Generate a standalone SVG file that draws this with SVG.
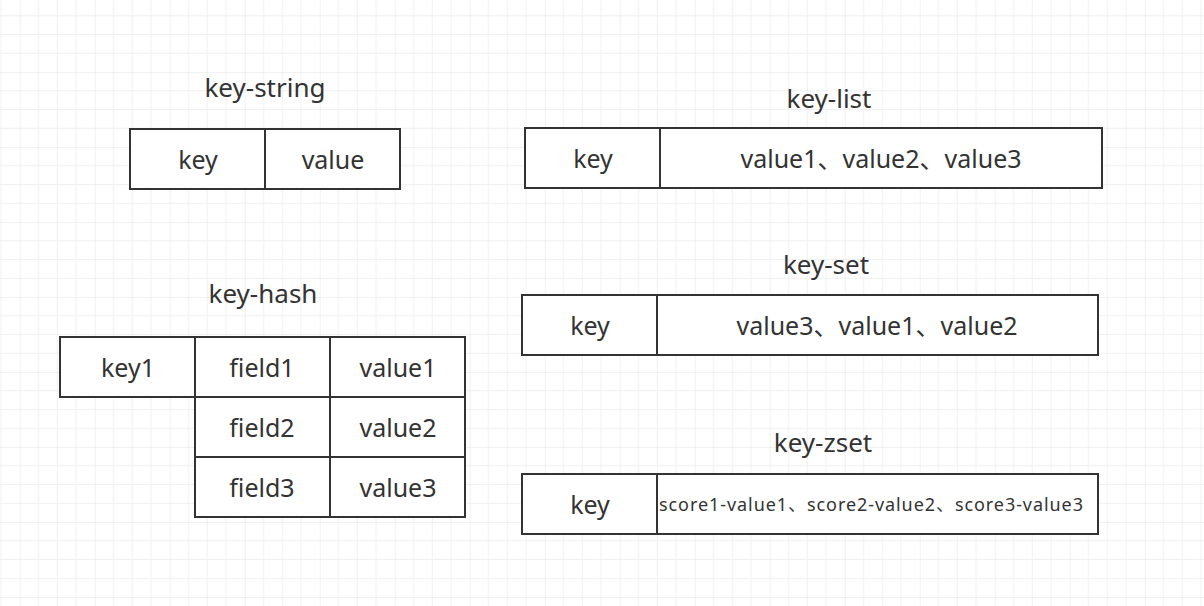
<svg xmlns="http://www.w3.org/2000/svg" width="1204" height="606" viewBox="0 0 1204 606">
<defs>
<pattern id="grid" patternUnits="userSpaceOnUse" x="19.7" y="72" width="75" height="75">
<path d="M18.75 0V75M37.5 0V75M56.25 0V75M0 18.75H75M0 37.5H75M0 56.25H75" stroke="#f0f0f0" stroke-width="1" fill="none"/>
<path d="M0 0V75M0 0H75" stroke="#e3e3e3" stroke-width="1" fill="none"/>
</pattern>
</defs>
<style>
.box{fill:#fff;stroke:#333;stroke-width:2}
.t{font-family:"Noto Sans","Noto Sans CJK SC",sans-serif;font-size:25px;fill:#333;text-anchor:middle;dominant-baseline:central}
.h{font-size:26px}
.s{font-size:18px}
</style>
<rect width="1204" height="606" fill="#fff"/>
<rect width="1204" height="606" fill="url(#grid)"/>
<g id="key-string">
<text class="t h" x="265" y="87">key-string</text>
<rect class="box" x="130" y="129" width="135" height="60"/>
<rect class="box" x="265" y="129" width="135" height="60"/>
<text class="t" x="198" y="159">key</text>
<text class="t" x="333" y="159">value</text>
</g>
<g id="key-list">
<text class="t h" x="829" y="98">key-list</text>
<rect class="box" x="525" y="128" width="135" height="60"/>
<rect class="box" x="660" y="128" width="442" height="60"/>
<text class="t" x="593" y="158">key</text>
<text class="t" x="881" y="158">value1、value2、value3</text>
</g>
<g id="key-hash">
<text class="t h" x="263" y="293">key-hash</text>
<rect class="box" x="60" y="337" width="135" height="60"/>
<rect class="box" x="195" y="337" width="135" height="60"/>
<rect class="box" x="330" y="337" width="135" height="60"/>
<rect class="box" x="195" y="397" width="135" height="60"/>
<rect class="box" x="330" y="397" width="135" height="60"/>
<rect class="box" x="195" y="457" width="135" height="60"/>
<rect class="box" x="330" y="457" width="135" height="60"/>
<text class="t" x="128" y="367">key1</text>
<text class="t" x="262" y="367">field1</text>
<text class="t" x="398" y="367">value1</text>
<text class="t" x="262" y="427">field2</text>
<text class="t" x="398" y="427">value2</text>
<text class="t" x="262" y="487">field3</text>
<text class="t" x="398" y="487">value3</text>
</g>
<g id="key-set">
<text class="t h" x="826" y="264">key-set</text>
<rect class="box" x="522" y="295" width="135" height="60"/>
<rect class="box" x="657" y="295" width="441" height="60"/>
<text class="t" x="590" y="325">key</text>
<text class="t" x="877" y="325">value3、value1、value2</text>
</g>
<g id="key-zset">
<text class="t h" x="823" y="442">key-zset</text>
<rect class="box" x="522" y="474" width="135" height="60"/>
<rect class="box" x="657" y="474" width="441" height="60"/>
<text class="t" x="590" y="504">key</text>
<text class="t s" x="871" y="504" textLength="424" lengthAdjust="spacing">score1-value1、score2-value2、score3-value3</text>
</g>
<g id="connectors"/>
</svg>
